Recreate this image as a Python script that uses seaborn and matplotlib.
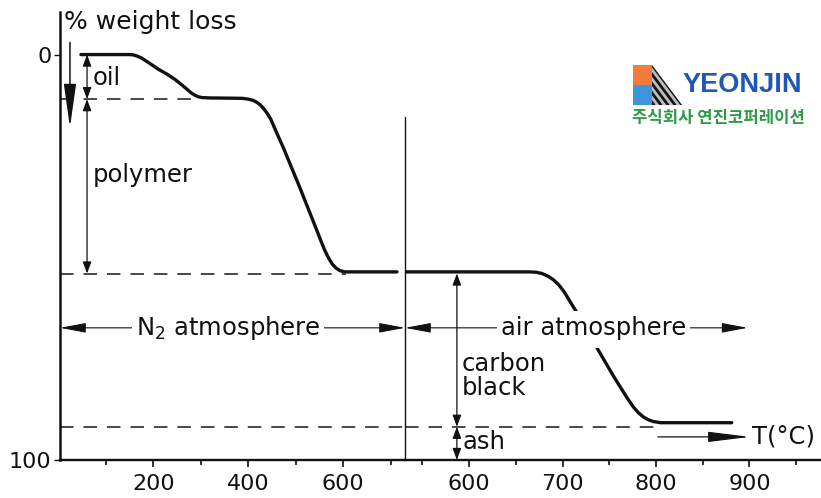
import matplotlib
matplotlib.use("Agg")
import matplotlib.pyplot as plt
import seaborn as sns
from matplotlib import font_manager
from matplotlib.patches import Rectangle, Polygon, FancyArrowPatch
from matplotlib.lines import Line2D

# ---- thermogram data: weight loss (%) vs temperature (°C) ----
# nitrogen stage (oil, then polymer volatilise)
T_n2 = [47, 150, 158, 166, 174, 182, 195, 210, 228, 245, 260, 271, 280, 287,
        294, 302, 319, 360, 388, 400, 410, 418, 425, 432, 439, 447, 460, 473,
        490, 508, 526, 544, 553, 561, 569, 577, 585, 593, 603, 614, 713]
W_n2 = [0, 0, 0.1, 0.4, 0.8, 1.4, 2.4, 3.6, 4.8, 6.1, 7.5, 8.6, 9.5, 10.0,
        10.4, 10.6, 10.7, 10.75, 10.8, 11.0, 11.3, 11.8, 12.4, 13.3, 14.4, 15.9, 19.4, 22.8,
        27.6, 32.7, 38.0, 43.3, 46.0, 48.3, 50.2, 51.7, 52.7, 53.3, 53.6, 53.6, 53.6]
# air stage (carbon black burns off, ash remains)
T_air = [533, 665, 672, 678, 684, 690, 696, 702, 708, 715, 737, 755, 770,
         776, 781, 786, 791, 797, 805, 881]
W_air = [53.6, 53.6, 53.7, 54.0, 54.6, 55.5, 56.8, 58.6, 60.9, 63.5, 72.4, 79.5, 85.0,
         87.0, 88.3, 89.3, 90.0, 90.5, 90.8, 90.8]

# plateau levels (%)
oil_level = 11
polymer_level = 54
ash_level = 91.8

# axis ticks
xticks_n2 = [200, 400, 600]
xminor_n2 = [100, 300, 500, 700]
xticks_air = [600, 700, 800, 900]
xminor_air = [550, 650, 750, 850, 950]
yticks = [0, 100]

sns.set_style("white")
plt.rcParams["font.family"] = ["DejaVu Sans"]
plt.rcParams["mathtext.fontset"] = "dejavusans"

INK = "#111111"
W, H = 821, 498
fig = plt.figure(figsize=(W / 100, H / 100), dpi=100)


def fx(px):
    return px / W


def fy(py):
    return 1 - py / H


ax_l = fig.add_axes([fx(60), fy(460), (405 - 60) / W, (460 - 12) / H])
ax_r = fig.add_axes([fx(405), fy(460), (821 - 405) / W, (460 - 12) / H], sharey=ax_l)

# curves
curve = dict(color=INK, lw=2.4, estimator=None, solid_joinstyle="round",
             solid_capstyle="round", zorder=2)
sns.lineplot(x=T_n2, y=W_n2, ax=ax_l, **curve)
sns.lineplot(x=T_air, y=W_air, ax=ax_r, **curve)

ax_l.set_xlim(3, 730)
ax_r.set_xlim(531.5, 976.5)
ax_l.set_ylim(100, -10.5)

# dashed plateau guides
dash = dict(color="#3a3a3a", lw=1.3, dashes=(7.5, 5.5), zorder=1)
ax_l.plot([3, 292], [oil_level, oil_level], **dash)
ax_l.plot([3, 605], [polymer_level, polymer_level], **dash)
ax_l.plot([3, 730], [ash_level, ash_level], **dash)
ax_r.plot([531.5, 801], [ash_level, ash_level], **dash)

# axes styling
for ax in (ax_l, ax_r):
    for s in ("top", "right"):
        ax.spines[s].set_visible(False)
    ax.spines["bottom"].set_linewidth(1.7)
    ax.spines["bottom"].set_color(INK)
    ax.set_facecolor("none")
ax_l.spines["left"].set_linewidth(1.8)
ax_l.spines["left"].set_color(INK)
ax_r.spines["left"].set_visible(False)

ax_l.set_xticks(xticks_n2)
ax_l.set_xticks(xminor_n2, minor=True)
ax_r.set_xticks(xticks_air)
ax_r.set_xticks(xminor_air, minor=True)
ax_l.set_yticks(yticks)
ax_l.set_yticklabels([str(v) for v in yticks])
for ax in (ax_l, ax_r):
    ax.tick_params(axis="x", which="major", direction="out", length=5, width=1.2,
                   colors=INK, labelsize=16, pad=5, bottom=True)
    ax.tick_params(axis="x", which="minor", direction="out", length=3.5, width=1.2,
                   colors=INK, bottom=True)
ax_l.tick_params(axis="y", direction="out", length=4, width=1.0, colors=INK,
                 labelsize=16, pad=2, left=True)
ax_r.tick_params(axis="y", left=False, labelleft=False)

# break between the two atmospheres
ax_r.plot([531.5, 531.5], [15.4, 100], color=INK, lw=1.0, clip_on=False)

# y label
fig.text(fx(64), fy(22), "% weight loss", ha="left", va="center", fontsize=18, color=INK)

# big downward arrow next to the y axis
ax_l.add_patch(FancyArrowPatch((24, -3), (24, 18), arrowstyle="-|>,head_length=27,head_width=3.8",
                               mutation_scale=1, lw=1.1, color=INK, clip_on=False,
                               shrinkA=0, shrinkB=0))


def span_arrow(ax, x, y0, y1):
    ax.add_patch(FancyArrowPatch((x, y0), (x, y1),
                                 arrowstyle="<|-|>,head_length=7,head_width=2.6",
                                 mutation_scale=1, lw=0.9, color=INK, clip_on=False,
                                 shrinkA=0, shrinkB=0, zorder=3))


span_arrow(ax_l, 60, 0, oil_level)
span_arrow(ax_l, 60, oil_level, polymer_level)
span_arrow(ax_r, 587, polymer_level, ash_level)
span_arrow(ax_r, 587, ash_level, 100)

lab = dict(fontsize=17.5, color=INK, va="center", ha="left")
ax_l.text(72, 5.8, "oil", **lab)
ax_l.text(72, 29.7, "polymer", **lab)
ax_r.text(592, 79.3, "carbon\nblack", linespacing=1.0, **lab)
ax_r.text(593, 95.6, "ash", **lab)

# atmosphere spans
atm_y = 67.4
ax_l.add_patch(FancyArrowPatch((3, atm_y), (730, atm_y),
                               arrowstyle="<|-|>,head_length=16,head_width=3",
                               mutation_scale=1, lw=0.8, color=INK, clip_on=False,
                               shrinkA=0, shrinkB=0, zorder=3))
ax_r.add_patch(FancyArrowPatch((531.5, atm_y), (898, atm_y),
                               arrowstyle="<|-|>,head_length=16,head_width=3",
                               mutation_scale=1, lw=0.8, color=INK, clip_on=False,
                               shrinkA=0, shrinkB=0, zorder=3))
# the label of the air stage interrupts the burn-off curve
ax_r.add_patch(Rectangle((705, 63.2), 45, 9.2, facecolor="white", edgecolor="none", zorder=2.5))
box = dict(facecolor="white", edgecolor="none", pad=3)
ax_l.text(357, atm_y, "N$_2$ atmosphere", ha="center", va="center", fontsize=17.5,
          color=INK, bbox=box, zorder=4)
ax_r.text(733, atm_y, "air atmosphere", ha="center", va="center", fontsize=17.5,
          color=INK, bbox=box, zorder=4)

# temperature direction arrow
ax_r.add_patch(FancyArrowPatch((802, 94.3), (900.5, 94.3),
                               arrowstyle="-|>,head_length=26,head_width=3.2",
                               mutation_scale=1, lw=0.9, color=INK, clip_on=False,
                               shrinkA=0, shrinkB=0))
ax_r.text(903, 94.3, "T(°C)", fontsize=17.5, color=INK, va="center", ha="left")

# ---- company logo ----
available = {f.name for f in font_manager.fontManager.ttflist}
narrow = "Liberation Sans Narrow" if "Liberation Sans Narrow" in available else "Liberation Sans"

lg = fig.add_axes([fx(628), fy(130), (808 - 628) / W, (130 - 60) / H])
lg.set_xlim(628, 808)
lg.set_ylim(130, 60)
lg.axis("off")
lg.add_patch(Rectangle((633, 65), 19, 20, color="#f27b3d", lw=0))
lg.add_patch(Rectangle((633, 85), 19, 20, color="#3d96dc", lw=0))
tri = Polygon([(652, 65), (652, 105), (682, 105)], closed=True, color="#bdbdbd", lw=0)
lg.add_patch(tri)
for s in [0, 7, 14, 21, 28]:
    ln = Line2D([652 - s, 682 - s], [65, 105], color="#151515", lw=2.0)
    lg.add_line(ln)
    ln.set_clip_path(tri)

yj = lg.text(683, 85, "YEONJIN", ha="left", va="center", fontsize=24,
             fontweight="bold", color="#1f57b6", family=[narrow, "DejaVu Sans"])
lg.text(632, 118.5, "주식회사 연진코퍼레이션", ha="left", va="center", fontsize=12,
        fontweight="bold", color="#2f9a45", family=["Noto Sans CJK KR", "DejaVu Sans"])

# scale the wordmark to fill its slot
fig.canvas.draw()
bb = yj.get_window_extent()
yj.set_fontsize(24 * 119 / bb.width)

fig.savefig("out.png", dpi=100, facecolor="white")
